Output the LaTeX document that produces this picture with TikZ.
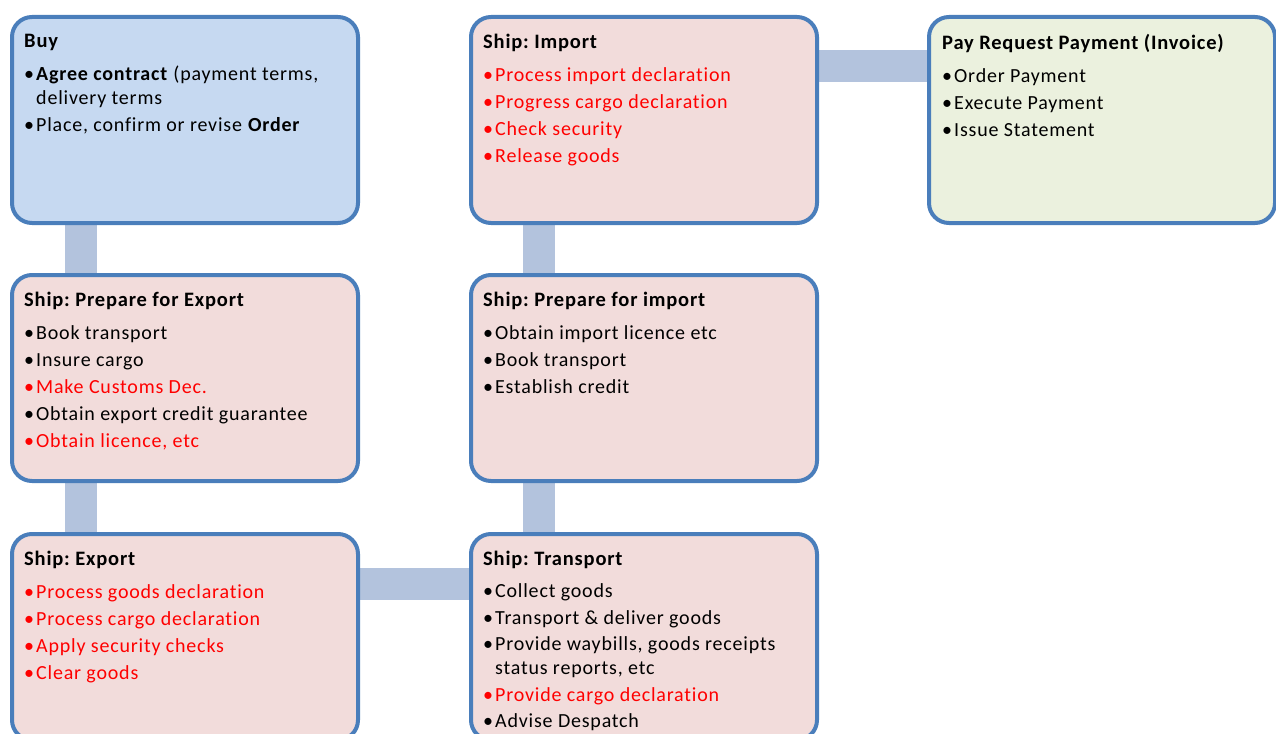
\documentclass[tikz,border=0pt]{standalone}
\usepackage{fontspec}
\setmainfont[LetterSpace=4, Ligatures=NoCommon]{Carlito}
\usetikzlibrary{backgrounds}

\definecolor{edgeblue}{HTML}{4A7EBB}
\definecolor{bluefill}{HTML}{C6D9F1}
\definecolor{pinkfill}{HTML}{F2DCDB}
\definecolor{greenfill}{HTML}{EBF1DE}
\definecolor{linkc}{HTML}{B3C3DD}
\definecolor{redtxt}{HTML}{FF0000}

\tikzset{
  stage/.style={draw=edgeblue, line width=4pt, rounded corners=20pt,
    minimum width=346pt, minimum height=206pt, inner sep=0pt, anchor=north west},
  body/.style={anchor=north west, align=left, inner sep=0pt,
    font=\fontsize{20}{27}\selectfont\frenchspacing},
  linkbar/.style={draw=linkc, line width=32pt},
}
\newcommand\itm[1]{\makebox[12pt][l]{•}#1}
\newcommand\hd[1]{{\fontsize{20.5}{27}\selectfont\bfseries #1}}
\newcommand\rd[1]{\textcolor{redtxt}{\itm{#1}}}

\begin{document}
\begin{tikzpicture}[x=1pt,y=-1pt]
\useasboundingbox (0,0) rectangle (1276,733);

% stage boxes
\node[stage, fill=bluefill]  (buy)     at (10,15)  {};
\node[stage, fill=pinkfill]  (imp)     at (469,15) {};
\node[stage, fill=greenfill] (pay)     at (927,15) {};
\node[stage, fill=pinkfill]  (prepexp) at (10,273) {};
\node[stage, fill=pinkfill]  (prepimp) at (469,273) {};
\node[stage, fill=pinkfill]  (exp)     at (10,532) {};
\node[stage, fill=pinkfill]  (trans)   at (469,532) {};

% connecting bars behind the boxes
\begin{scope}[on background layer]
  \draw[linkbar] ([xshift=71pt]buy.south west) -- ([xshift=71pt]prepexp.north west);
  \draw[linkbar] ([xshift=71pt]prepexp.south west) -- ([xshift=71pt]exp.north west);
  \draw[linkbar] ([yshift=-52pt]exp.north east) -- ([yshift=-52pt]trans.north west);
  \draw[linkbar] ([xshift=70pt]trans.north west) -- ([xshift=70pt]prepimp.south west);
  \draw[linkbar] ([xshift=70pt]prepimp.north west) -- ([xshift=70pt]imp.south west);
  \draw[linkbar] ([yshift=-51pt]imp.north east) -- ([yshift=-51pt]pay.north west);
\end{scope}

% box contents
\node[body] (buytxt) at (24,34) {%
  \hd{Buy}\\[6pt]
  \itm{\textbf{Agree contract} (payment terms,}\\[-3pt]
  \hspace*{12pt}delivery terms\\
  \itm{Place, confirm or revise \textbf{Order}}};

\node[body] (imptxt) at (483,34) {%
  \hd{Ship: Import}\\[6pt]
  \rd{Process import declaration}\\
  \rd{Progress cargo declaration}\\
  \rd{Check security}\\
  \rd{Release goods}};

\node[body] (paytxt) at (942,34) {%
  \hd{Pay Request Payment (Invoice)}\\[6pt]
  \itm{Order Payment}\\
  \itm{Execute Payment}\\
  \itm{Issue Statement}};

\node[body] (prepexptxt) at (24,292) {%
  \hd{Ship: Prepare for Export}\\[6pt]
  \itm{Book transport}\\
  \itm{Insure cargo}\\
  \rd{Make Customs Dec.}\\
  \itm{Obtain export credit guarantee}\\
  \rd{Obtain licence, etc}};

\node[body] (prepimptxt) at (483,292) {%
  \hd{Ship: Prepare for import}\\[6pt]
  \itm{Obtain import licence etc}\\
  \itm{Book transport}\\
  \itm{Establish credit}};

\node[body] (exptxt) at (24,551) {%
  \hd{Ship: Export}\\[6pt]
  \rd{Process goods declaration}\\
  \rd{Process cargo declaration}\\
  \rd{Apply security checks}\\
  \rd{Clear goods}};

\node[body] (transtxt) at (483,551) {%
  \hd{Ship: Transport}\\[5pt]
  \itm{Collect goods}\\
  \itm{Transport \& deliver goods}\\[-1pt]
  \itm{Provide waybills, goods receipts}\\[-3pt]
  \hspace*{12pt}status reports, etc\\
  \rd{Provide cargo declaration}\\[-1pt]
  \itm{Advise Despatch}};
\end{tikzpicture}
\end{document}
